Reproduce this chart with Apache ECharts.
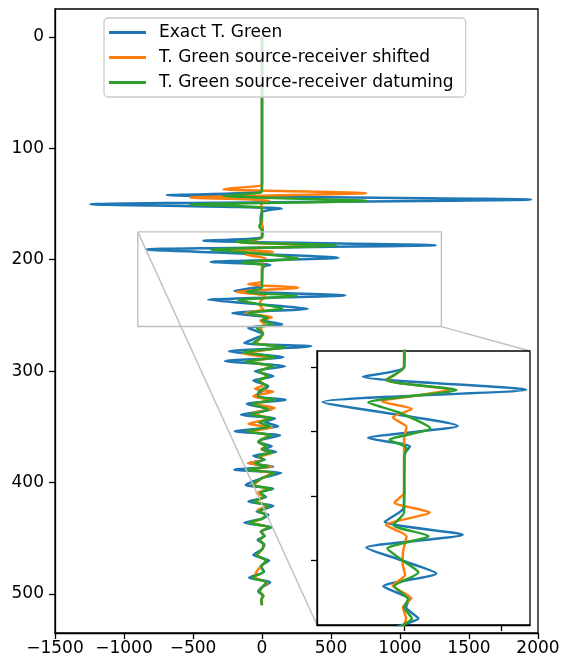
<!DOCTYPE html>
<html>
<head>
<meta charset="utf-8">
<script src="https://cdn.jsdelivr.net/npm/echarts@6/dist/echarts.min.js"></script>
<style>
  html, body { margin: 0; padding: 0; background: #fff; }
  #main { width: 563px; height: 666px; }
</style>
</head>
<body>
<div id="main"></div>
<script>
// trace names
var names = ['Exact T. Green', 'T. Green source-receiver shifted', 'T. Green source-receiver datuming'];
var colors = ['#1f77b4', '#ff7f0e', '#2ca02c'];

// exact trace (depth / amplitude)
var exactDepth = [0,130,139,142,146,150.2,154,157,165,172,
  180,183,187,190.8,198.3,202,204.6,207,220,224,
  228,232,236,240,244,248,252,254.5,258,261.2,
  267,274.7,277.7,282.2,287.5,291,295.6,300,304.5,308.4,
  313.5,318,322.5,325.6,329.4,334.5,339,342.5,345.5,349.5,
  354,357.6,361,363.6,367.5,370,372.5,376,379.5,382.6,
  385.6,388.4,391.5,396,402.2,405.5,409,413,417,421,
  426,429,432.5,436,440,444,448,451.5,455.5,460,
  465,470,475,480,485.4,489.4,494,498,501.5,505,
  510];
var exactAmp = [0,0,-10,-690,1950,-1243,143,0,-10,5,
  0,-425,1260,-840,555,-372,60,5,0,-10,
  -200,605,-390,-20,332,-215,50,20,147,-99,
  10,-128,355,-239,155,-268,167,-51,82,-63,
  46,0,-56,172,-111,70,-152,94,20,118,
  -196,131,10,-27,70,10,102,-63,20,-99,
  82,-200,138,0,-118,82,-20,30,-99,82,
  -39,46,0,-128,70,-10,20,-31,17,0,
  -63,51,-10,15,-94,60,0,-27,10,-5,
  0];

// source-receiver shifted
var shiftDepth = [0,131,133.5,136.7,140.3,144.2,147,150,155,180,
  184,187,190.7,193,195.6,198.6,202,219,222,225.1,
  229,232.5,237,241,244.5,247.8,251.7,254.5,258,261,
  266,271,274.7,278.5,284.5,288,291.5,295.6,300,304.5,
  308.4,312,316,318.5,322.5,326,329.4,333,338,342.5,
  347.4,350.5,354,357.6,361,363.6,367.5,370,373.5,377,
  380,382.6,385.6,388.4,391.5,396,402.2,405.5,409.6,413,
  417,421,424.5,429,432.5,436,440,444,448,451.5,
  455.5,460,465,470,475,479.6,485,490,494,498,
  501.5,505,510];
var shiftAmp = [0,0,-10,-280,755,-522,50,-5,0,0,
  -180,470,-231,80,-117,25,0,0,-100,263,
  -187,25,-10,-15,10,-117,73,-13,20,-10,
  5,-15,-50,150,-135,80,-100,70,-20,40,
  -25,15,-51,82,-63,50,-50,94,-70,60,
  -99,70,-80,55,0,-20,30,-5,70,-20,
  5,-99,70,-90,80,0,-55,50,-39,20,
  -50,45,-30,30,0,-80,45,-5,15,-15,
  10,0,-35,30,-5,-39,-50,40,0,-15,
  10,-5,0];

// source-receiver datuming
var datumDepth = [0,135,139.5,142.7,147.2,150.5,153,158,166,170,
  174,180,184,187.1,191,194,199,202.6,205,208,
  225,229,232.4,236.3,240,243.7,248,252,254.5,258,
  261,266,271,274.7,278.5,283,287.5,291.5,295.6,300,
  304.5,308.4,313.5,318,322.5,325.6,329.4,334.5,339,342.5,
  346,349.5,354,357.6,361,363.6,367.5,370,373,376,
  379.5,382.6,385.6,388.4,391.5,396,402.2,405.5,409,413,
  417,421,426,429,432.5,436,440,444,448,451.5,
  455.5,460,465,470,475,480,485.4,489.4,494,498,
  501.5,505,510];
var datumAmp = [0,0,-5,-281,760,-522,-6,0,-5,-20,
  0,0,-187,540,-370,-60,270,-150,25,0,
  0,-110,252,-173,-15,148,-100,40,0,80,
  -40,5,-20,-63,167,-135,94,-121,82,-27,
  46,-27,35,-20,-30,94,-75,46,-87,70,
  -20,58,-111,70,0,-27,34,0,70,-27,
  10,-51,46,-111,94,0,-75,70,-10,20,
  -63,46,-25,30,0,-99,58,-5,15,-20,
  12,0,-39,34,-5,10,-75,34,0,-20,
  8,-5,0];

// axes
var xTicks = [-1500, 2000, 500];
var yRange = [-25, 535];
var yTicks = [0, 100, 200, 300, 400, 500];
// zoomed window
var insetX = [-900, 1300];
var insetY = [175, 260];
var insetXTicks = [0, 1000];
var insetYTicks = [180, 200, 220, 240];

function pairs(d, a){
  if (d.length != a.length) throw new Error('length mismatch ' + d.length + ' ' + a.length);
  var out = [];
  for (var i = 0; i < d.length; i++) out.push([a[i], d[i]]);
  return out;
}
var traces = [pairs(exactDepth, exactAmp), pairs(shiftDepth, shiftAmp), pairs(datumDepth, datumAmp)];

var font = 'DejaVu Sans';
var black = {color: '#000', width: 1.3};
// matplotlib style numbers: no thousands separator, real minus sign
function num(v){ return (v < 0 ? '\u2212' : '') + Math.abs(v); }

var series = [];
for (var g = 0; g < 2; g++) {
  for (var i = 0; i < 3; i++) {
    series.push({
      name: names[i], type: 'line', xAxisIndex: g, yAxisIndex: g,
      data: traces[i], symbol: 'none', showSymbol: false, smooth: 0.2,
      color: colors[i], lineStyle: {color: colors[i], width: 2.5},
      z: 2 + g * 10, animation: false, clip: true
    });
  }
}
// box showing the zoomed window
series.push({
  name: 'box', type: 'line', xAxisIndex: 0, yAxisIndex: 0, symbol: 'none',
  data: [[insetX[0], insetY[0]], [insetX[1], insetY[0]], [insetX[1], insetY[1]], [insetX[0], insetY[1]], [insetX[0], insetY[0]]],
  lineStyle: {color: '#bfbfbf', width: 1.4}, z: 5, animation: false
});

var myChart = echarts.init(document.getElementById('main'));
myChart.setOption({
  animation: false,
  grid: [
    {left: 55, top: 9, width: 483, height: 624, show: true, borderColor: '#000', borderWidth: 1.3, backgroundColor: 'transparent'},
    {left: 317, top: 351, width: 213, height: 274, show: true, borderColor: '#000', borderWidth: 1.3, backgroundColor: '#fff', z: 8}
  ],
  xAxis: [
    {gridIndex: 0, type: 'value', min: xTicks[0], max: xTicks[1], interval: xTicks[2],
     axisLine: {show: true, onZero: false, lineStyle: black},
     axisTick: {show: true, length: 6, lineStyle: black},
     axisLabel: {fontSize: 17, fontFamily: font, color: '#000', margin: 7, formatter: num},
     splitLine: {show: false}},
    {gridIndex: 1, type: 'value', min: insetX[0], max: insetX[1], z: 9,
     axisLine: {show: true, onZero: false, lineStyle: black},
     axisTick: {show: true, length: 6, lineStyle: black, customValues: insetXTicks},
     axisLabel: {show: false}, splitLine: {show: false}}
  ],
  yAxis: [
    {gridIndex: 0, type: 'value', inverse: true, min: yRange[0], max: yRange[1],
     axisLine: {show: true, onZero: false, lineStyle: black},
     axisTick: {show: true, length: 6, lineStyle: black, customValues: yTicks},
     axisLabel: {fontSize: 17, fontFamily: font, color: '#000', margin: 11, customValues: yTicks, formatter: num},
     splitLine: {show: false}},
    {gridIndex: 1, type: 'value', inverse: true, min: insetY[0], max: insetY[1], z: 9,
     axisLine: {show: true, onZero: false, lineStyle: black},
     axisTick: {show: true, length: 6, lineStyle: black, customValues: insetYTicks},
     axisLabel: {show: false}, splitLine: {show: false}}
  ],
  legend: {
    data: names, orient: 'vertical', left: 104, top: 18, z: 20,
    padding: [5, 12, 5, 5], itemWidth: 37, itemHeight: 14, itemGap: 6,
    icon: 'path://M0,0H37V3H0Z',
    backgroundColor: 'rgba(255,255,255,0.8)', borderColor: '#cccccc', borderWidth: 1.3, borderRadius: 4,
    textStyle: {fontSize: 17, fontFamily: font, color: '#000', lineHeight: 19, padding: [0, 0, 0, 8]}
  },
  series: series
});

// connector lines from the box to the inset corners
var a1 = myChart.convertToPixel({gridIndex: 0}, [insetX[0], insetY[0]]);
var b1 = myChart.convertToPixel({gridIndex: 1}, [insetX[0], insetY[1]]);
var a2 = myChart.convertToPixel({gridIndex: 0}, [insetX[1], insetY[1]]);
var b2 = myChart.convertToPixel({gridIndex: 1}, [insetX[1], insetY[0]]);
myChart.setOption({
  graphic: [
    {type: 'line', z: 6, shape: {x1: a1[0], y1: a1[1], x2: b1[0], y2: b1[1]}, style: {stroke: '#bfbfbf', lineWidth: 1.4}},
    {type: 'line', z: 6, shape: {x1: a2[0], y1: a2[1], x2: b2[0], y2: b2[1]}, style: {stroke: '#bfbfbf', lineWidth: 1.4}}
  ]
});
</script>
</body>
</html>
